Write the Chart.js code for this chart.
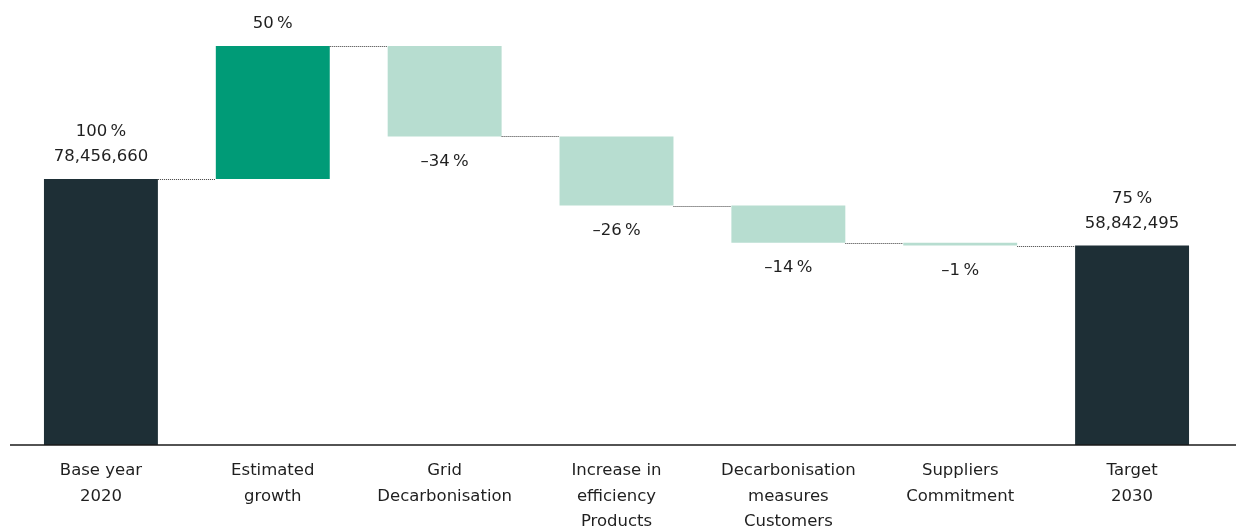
<!DOCTYPE html>
<html>
<head>
<meta charset="utf-8">
<script src="https://cdn.jsdelivr.net/npm/chart.js"></script>
<style>
  html, body { margin: 0; padding: 0; background: #fff; }
  #wrap { width: 1236px; height: 528px; }
</style>
</head>
<body>
<div id="wrap"><canvas id="chart" width="1236" height="528"></canvas></div>
<script>
// categories and values (percent of 2020 base)
var categories = [
  ['Base year', '2020'],
  ['Estimated', 'growth'],
  ['Grid', 'Decarbonisation'],
  ['Increase in', 'efficiency', 'Products'],
  ['Decarbonisation', 'measures', 'Customers'],
  ['Suppliers', 'Commitment'],
  ['Target', '2030']
];
var changes = [100, 50, -34, -26, -14, -1, 75];
var isTotal = [true, false, false, false, false, false, true];
var absValues = ['78,456,660', '', '', '', '', '', '58,842,495'];

var colTotal = '#1e2f36';
var colUp = '#009b77';
var colDown = '#b7ddd0';
var FONT = "'DejaVu Sans', sans-serif";

// build floating ranges
var ranges = [];
var colors = [];
var running = 0;
for (var i = 0; i < changes.length; i++) {
  if (isTotal[i]) {
    ranges.push([0, changes[i]]);
    running = changes[i];
    colors.push(colTotal);
  } else {
    ranges.push([running, running + changes[i]]);
    running += changes[i];
    colors.push(changes[i] >= 0 ? colUp : colDown);
  }
}

function pctText(v) {
  return (v < 0 ? '\u2013' + Math.abs(v) : String(v)) + '\u2009%';
}

var waterfallExtras = {
  id: 'waterfallExtras',
  afterDatasetsDraw: function(chart) {
    var ctx = chart.ctx;
    var meta = chart.getDatasetMeta(0);
    var y = chart.scales.y;
    ctx.save();
    // dotted connectors
    ctx.strokeStyle = '#3a3a3a';
    ctx.lineWidth = 1;
    ctx.setLineDash([1, 1]);
    for (var i = 0; i < meta.data.length - 1; i++) {
      var a = meta.data[i], b = meta.data[i + 1];
      var level = Math.round(y.getPixelForValue(ranges[i][1])) + 0.5;
      ctx.beginPath();
      ctx.moveTo(a.x + a.width / 2, level);
      ctx.lineTo(b.x - b.width / 2, level);
      ctx.stroke();
    }
    ctx.setLineDash([]);
    // baseline
    ctx.strokeStyle = '#1a1a1a';
    ctx.lineWidth = 1.5;
    ctx.beginPath();
    ctx.moveTo(10, chart.chartArea.bottom);
    ctx.lineTo(chart.width, chart.chartArea.bottom);
    ctx.stroke();
    // value labels
    ctx.fillStyle = '#1f1f1f';
    ctx.font = '16.5px ' + FONT;
    ctx.textAlign = 'center';
    ctx.textBaseline = 'middle';
    for (var j = 0; j < meta.data.length; j++) {
      var bar = meta.data[j];
      var top = y.getPixelForValue(Math.max(ranges[j][0], ranges[j][1]));
      var bottom = y.getPixelForValue(Math.min(ranges[j][0], ranges[j][1]));
      if (changes[j] >= 0) {
        var lines = [pctText(changes[j])];
        if (absValues[j]) lines.push(absValues[j]);
        for (var k = 0; k < lines.length; k++) {
          ctx.fillText(lines[k], bar.x, top - 22 - (lines.length - 1 - k) * 25);
        }
      } else {
        ctx.fillText(pctText(changes[j]), bar.x, bottom + 25);
      }
    }
    ctx.restore();
  }
};

new Chart(document.getElementById('chart'), {
  type: 'bar',
  data: {
    labels: categories,
    datasets: [{
      data: ranges,
      backgroundColor: colors,
      borderWidth: 0,
      categoryPercentage: 1,
      barPercentage: 0.663
    }]
  },
  options: {
    responsive: false,
    animation: false,
    layout: { padding: { top: 46, left: 15, right: 18, bottom: 0 } },
    plugins: { legend: { display: false }, tooltip: { enabled: false } },
    scales: {
      x: {
        grid: { display: false, drawTicks: false },
        border: { display: false },
        ticks: {
          color: '#1f1f1f',
          padding: 13,
          maxRotation: 0,
          autoSkip: false,
          font: { family: FONT, size: 16.5, lineHeight: 1.55 }
        },
        afterFit: function(scale) { scale.height = 83; }
      },
      y: {
        display: false,
        min: 0,
        max: 150
      }
    }
  },
  plugins: [waterfallExtras]
});
</script>
</body>
</html>
